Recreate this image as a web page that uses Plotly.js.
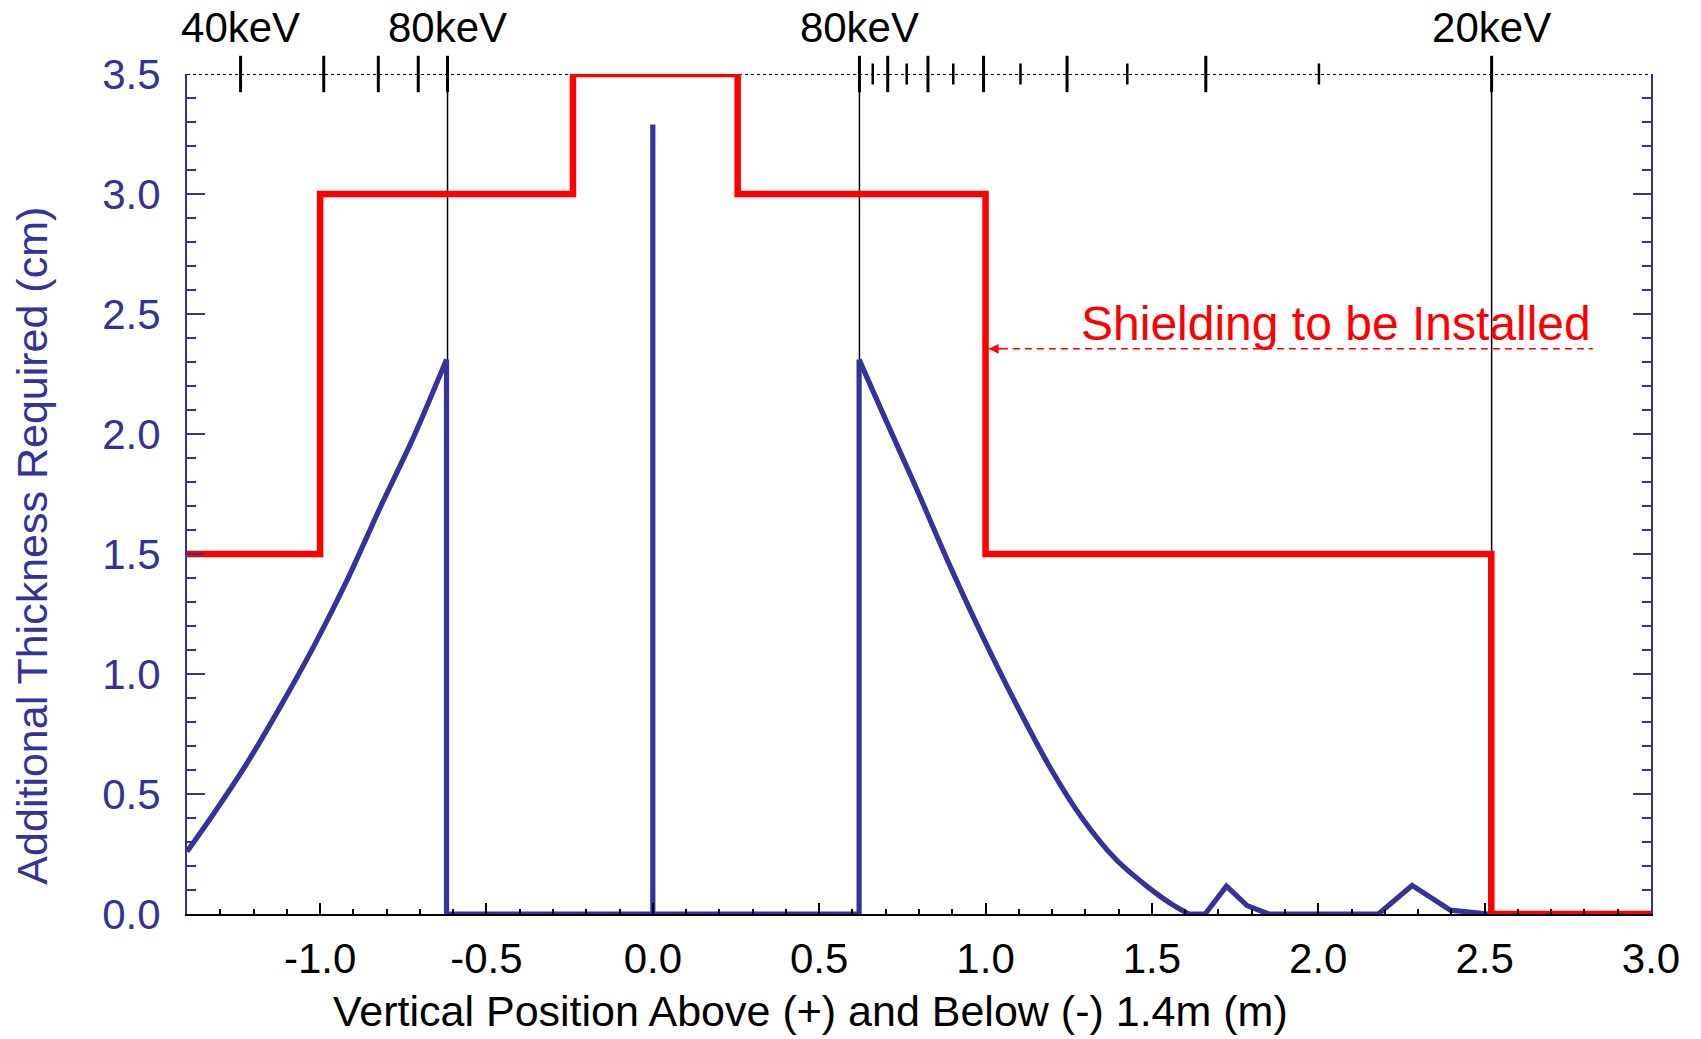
<!DOCTYPE html>
<html>
<head>
<meta charset="utf-8">
<script src="https://cdn.plot.ly/plotly-3.0.1.min.js"></script>
<style>html,body{margin:0;padding:0;background:#fff;}#chart{width:1701px;height:1039px;}</style>
</head>
<body>
<div id="chart"></div>
<script>
// ---- Data ----
// Red step line: shielding to be installed (cm)
const shieldX = [-1.4, -1.0, -0.24, 0.255, 1.0, 2.52, 3.0];
const shieldY = [1.5, 3.0, 3.5, 3.0, 1.5, 0.0, 0.0];

// Blue curve: additional thickness required (cm), in pieces
const reqLeftX = [-1.4, -1.319, -1.219, -1.119, -1.019, -0.918, -0.818, -0.718, -0.62];
const reqLeftY = [0.26, 0.42, 0.63, 0.865, 1.115, 1.393, 1.698, 1.99, 2.31];
const reqMidX = [-0.62, -0.62, 0.0, 0.0, 0.0, 0.62, 0.62];
const reqMidY = [2.31, 0.0, 0.0, 3.29, 0.0, 0.0, 2.31];
const reqRightX = [0.62, 0.69, 0.79, 0.89, 0.99, 1.09, 1.19, 1.29, 1.39, 1.49, 1.555, 1.61];
const reqRightY = [2.31, 2.09, 1.78, 1.46, 1.16, 0.88, 0.62, 0.40, 0.23, 0.11, 0.045, 0.0];
const reqTailX = [1.61, 1.66, 1.724, 1.786, 1.851, 2.181, 2.282, 2.397, 2.512, 3.0];
const reqTailY = [0.0, 0.0, 0.116, 0.035, 0.0, 0.0, 0.119, 0.016, 0.0, 0.0];

// Top energy scale (positions in m where the energy ticks fall)
const keVMajorX = [-1.239, -0.989, -0.825, -0.705, -0.617, 0.621, 0.706, 0.827, 0.994, 1.245, 1.662, 2.521];
const keVMinorX = [0.661, 0.763, 0.903, 1.105, 1.426, 2.002];
const keVLabelX = [-1.239, -0.617, 0.621, 2.521];
const keVLabels = ['40keV', '80keV', '80keV', '20keV'];
const keVMarkLines = [-0.617, 0.621, 2.521];

// Axis ticks
const xTickVals = [-1.0, -0.5, 0.0, 0.5, 1.0, 1.5, 2.0, 2.5, 3.0];
const xTickText = ['-1.0', '-0.5', '0.0', '0.5', '1.0', '1.5', '2.0', '2.5', '3.0'];
const yTickVals = [0.0, 0.5, 1.0, 1.5, 2.0, 2.5, 3.0, 3.5];
const yTickText = ['0.0', '0.5', '1.0', '1.5', '2.0', '2.5', '3.0', '3.5'];

// Annotation
const noteText = 'Shielding to be Installed';
const noteArrowX = [1.01, 2.825];
const noteArrowY = 2.355;
const noteTextX = 2.054;
const noteTextY = 2.46;

const xRange = [-1.4, 3.0];
const yRange = [0.0, 3.5];

// ---- Styles ----
const FONT = 'Liberation Sans, Arial, Helvetica, sans-serif';
const BLUE = 'rgb(51,51,153)';
const RED = '#ff0000';
const BLUE_W = 5.2;

// vertical reference lines built from keVMarkLines
const vlX = [], vlY = [];
keVMarkLines.forEach(v => { vlX.push(v, v, null); vlY.push(yRange[0], yRange[1], null); });

function bluePiece(xs, ys, shape) {
  return { x: xs, y: ys, type: 'scatter', mode: 'lines',
    line: { color: BLUE, width: BLUE_W, shape: shape, smoothing: 0.8 },
    cliponaxis: false, showlegend: false, hoverinfo: 'skip' };
}

const traces = [
  { x: vlX, y: vlY, type: 'scatter', mode: 'lines', line: { color: '#000', width: 1.5 },
    hoverinfo: 'skip', showlegend: false },
  { x: [xRange[0], xRange[1]], y: [yRange[1], yRange[1]], type: 'scatter', mode: 'lines',
    line: { color: '#000', width: 2, dash: 'dot' }, hoverinfo: 'skip', showlegend: false, cliponaxis: false },
  bluePiece(reqLeftX, reqLeftY, 'spline'),
  bluePiece(reqMidX, reqMidY, 'linear'),
  bluePiece(reqRightX, reqRightY, 'spline'),
  bluePiece(reqTailX, reqTailY, 'linear'),
  { x: shieldX, y: shieldY, type: 'scatter', mode: 'lines', line: { color: RED, width: 6.5, shape: 'hv' },
    cliponaxis: false, showlegend: false, hoverinfo: 'skip' },
  { x: noteArrowX, y: noteArrowX.map(() => noteArrowY), type: 'scatter', mode: 'lines',
    line: { color: RED, width: 1.5, dash: '7px,5px' }, showlegend: false, hoverinfo: 'skip' },
  { x: keVMajorX, y: keVMajorX.map(() => yRange[1]), xaxis: 'x2', type: 'scatter', mode: 'markers',
    marker: { symbol: 'line-ns', size: 26, line: { color: '#000', width: 3 } },
    cliponaxis: false, showlegend: false, hoverinfo: 'skip' },
  { x: keVMinorX, y: keVMinorX.map(() => yRange[1]), xaxis: 'x2', type: 'scatter', mode: 'markers',
    marker: { symbol: 'line-ns', size: 15, line: { color: '#000', width: 2.5 } },
    cliponaxis: false, showlegend: false, hoverinfo: 'skip' }
];

const layout = {
  width: 1701, height: 1039,
  paper_bgcolor: '#fff', plot_bgcolor: '#fff',
  margin: { l: 187, r: 50, t: 74, b: 125 },
  showlegend: false,
  font: { family: FONT, size: 42, color: '#000' },
  xaxis: {
    range: xRange, showgrid: false, zeroline: false,
    tickmode: 'array', tickvals: xTickVals, ticktext: xTickText,
    ticks: 'inside', ticklen: 11, tickwidth: 2, tickcolor: '#000',
    minor: { dtick: 0.1, ticks: 'inside', ticklen: 5.5, tickwidth: 2, tickcolor: '#000' },
    showline: true, linecolor: '#000', linewidth: 2,
    tickfont: { family: FONT, size: 42, color: '#000' },
    ticklabelstandoff: 7
  },
  xaxis2: {
    range: xRange, overlaying: 'x', side: 'top', anchor: 'y',
    showgrid: false, zeroline: false, showline: false,
    tickmode: 'array', tickvals: keVLabelX, ticktext: keVLabels, ticks: '',
    tickfont: { family: FONT, size: 42, color: '#000' },
    ticklabelstandoff: 23
  },
  yaxis: {
    range: yRange, showgrid: false, zeroline: false,
    tickmode: 'array', tickvals: yTickVals, ticktext: yTickText,
    ticks: 'inside', ticklen: 18, tickwidth: 2, tickcolor: BLUE,
    minor: { dtick: 0.1, ticks: 'inside', ticklen: 9, tickwidth: 2, tickcolor: BLUE },
    showline: true, linecolor: BLUE, linewidth: 2, mirror: 'ticks',
    tickfont: { family: FONT, size: 42, color: BLUE },
    ticklabelstandoff: 16
  },
  annotations: [
    { text: 'Vertical Position Above (+) and Below (-) 1.4m (m)', xref: 'paper', yref: 'paper',
      x: 0.426, y: -0.116, xanchor: 'center', yanchor: 'middle', showarrow: false,
      font: { family: FONT, size: 43, color: '#000' } },
    { text: 'Additional Thickness Required (cm)', xref: 'paper', yref: 'paper',
      x: -0.1055, y: 0.438, xanchor: 'center', yanchor: 'middle', textangle: -90, showarrow: false,
      font: { family: FONT, size: 43, color: BLUE } },
    { text: noteText, xref: 'x', yref: 'y', x: noteTextX, y: noteTextY,
      xanchor: 'center', yanchor: 'middle', showarrow: false,
      font: { family: FONT, size: 48, color: RED } },
    { text: '', xref: 'x', yref: 'y', x: noteArrowX[0], y: noteArrowY, ax: 14, ay: 0,
      showarrow: true, arrowhead: 2, arrowsize: 1.3, arrowwidth: 1.5, arrowcolor: RED }
  ]
};

Plotly.newPlot('chart', traces, layout, { displayModeBar: false, staticPlot: true });
</script>
</body>
</html>
